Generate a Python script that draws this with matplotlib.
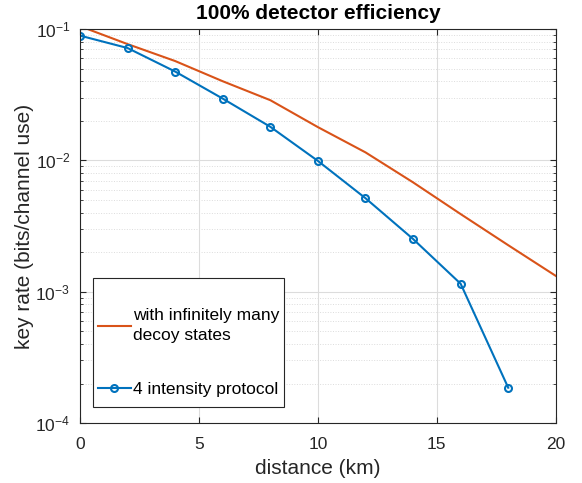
import matplotlib
matplotlib.use('Agg')
from matplotlib import pyplot as plt
from matplotlib.patches import Rectangle


# Data
dist_inf = [0, 2, 4, 6, 8, 10, 12, 14, 16, 18, 20]
rate_inf = [0.105, 0.0767, 0.057, 0.040, 0.0287, 0.0179, 0.0115, 0.0068,
            0.00390, 0.00226, 0.00132]

dist_4 = [0, 2, 4, 6, 8, 10, 12, 14, 16, 18]
rate_4 = [0.089, 0.0716, 0.0474, 0.0295, 0.0180, 0.0099, 0.00515, 0.00252,
          0.00115, 0.000186]

labels = ['with infinitely many\ndecoy states', '4 intensity protocol']


# Style (MATLAB-like)
plt.rcParams['font.family'] = ['Liberation Sans', 'DejaVu Sans']
plt.rcParams['mathtext.fontset'] = 'custom'
plt.rcParams['mathtext.rm'] = 'Liberation Sans'
plt.rcParams['mathtext.default'] = 'regular'

fig = plt.figure(figsize=(5.82, 4.83), dpi=100)
ax = fig.add_axes([0.1375, 0.124, 0.8175, 0.816])

ax.semilogy(dist_inf, rate_inf, color='#D95319', linewidth=1.5, label=labels[0])
ax.semilogy(dist_4, rate_4, color='#0072BD', linewidth=1.5, marker='o',
            markersize=5, markerfacecolor='none', markeredgewidth=1.5,
            label=labels[1])

ax.set_xlim(0, 20)
ax.set_ylim(1e-4, 1e-1)
ax.set_xticks([0, 5, 10, 15, 20])
ax.set_xlabel('distance (km)', fontsize=15, color='#262626', labelpad=5)
ax.set_ylabel('key rate (bits/channel use)', fontsize=15, color='#262626',
              labelpad=1)
ax.set_title('100% detector efficiency', fontsize=15, fontweight='bold', pad=7)

ax.grid(True, which='major', color='#dcdcdc', linewidth=0.8, linestyle='-')
ax.grid(True, which='minor', color='#dcdcdc', linewidth=0.7, linestyle=':')
ax.set_axisbelow(True)
ax.tick_params(which='both', direction='in', top=True, right=True,
               labelsize=12.5, colors='#262626')
ax.tick_params(which='major', length=4)
ax.tick_params(which='minor', length=2.5)
ax.tick_params(axis='x', which='major', pad=10)
ax.tick_params(axis='y', which='major', pad=7)
for s in ax.spines.values():
    s.set_color('#262626')
    s.set_linewidth(0.8)

# legend: MATLAB-style box with extra room at the top
ax.add_patch(Rectangle((0.0273, 0.0406), 0.401, 0.327, transform=ax.transAxes,
                       facecolor='white', edgecolor='#262626', linewidth=0.8,
                       zorder=4))
leg = ax.legend(loc='lower left', bbox_to_anchor=(0.037, 0.065),
                borderaxespad=0, frameon=False, fontsize=12.5,
                labelspacing=2.25, handlelength=1.9, handletextpad=0.12,
                borderpad=0)
leg.set_zorder(5)
leg.get_texts()[0].set_linespacing(1.4)

plt.savefig('out.png', dpi=100)
